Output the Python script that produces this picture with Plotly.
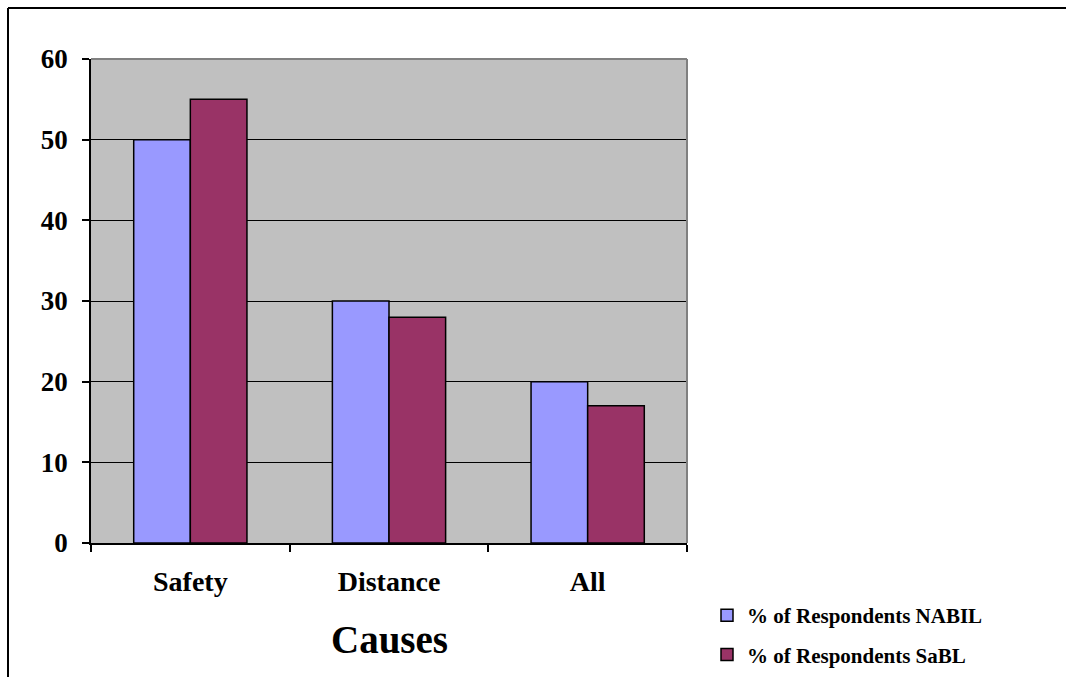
import plotly.graph_objects as go

# Survey results: share of respondents by cause
causes = ["Safety", "Distance", "All"]
nabil = [50, 30, 20]
sabl = [55, 28, 17]
series_names = ["% of Respondents NABIL", "% of Respondents SaBL"]
y_ticks = [0, 10, 20, 30, 40, 50, 60]

SERIF = "Liberation Serif"
W, H = 1066, 677
L, R, T, B = 91, 379, 59, 134
pw, ph = W - L - R, H - T - B


def px_x(x):
    return (x - L) / pw


def px_y(y):
    return (H - B - y) / ph


fig = go.Figure()
fig.add_trace(go.Bar(
    x=causes, y=nabil, name=series_names[0], legendgroup="a",
    marker=dict(color="#9999FF", line=dict(color="black", width=1.5)),
))
fig.add_trace(go.Bar(
    x=causes, y=sabl, name=series_names[1], legendgroup="b",
    marker=dict(color="#993366", line=dict(color="black", width=1.5)),
))

fig.update_layout(
    width=W, height=H, autosize=False,
    margin=dict(l=L, r=R, t=T, b=B, pad=0),
    paper_bgcolor="white", plot_bgcolor="#C0C0C0",
    barmode="group", bargap=0.43, bargroupgap=0,
    font=dict(family=SERIF, color="black"),
    legend=dict(
        xref="container", yref="container",
        x=707 / W, y=1 - 595 / H, xanchor="left", yanchor="top",
        font=dict(family=SERIF, size=21, weight="bold", color="black"),
        tracegroupgap=9, bgcolor="rgba(0,0,0,0)", itemclick=False,
    ),
    showlegend=True,
)

fig.update_xaxes(
    type="category", tickson="boundaries", showgrid=False,
    showline=True, linecolor="black", linewidth=1.5,
    ticks="outside", ticklen=7, tickcolor="black", tickwidth=1.5,
    tickfont=dict(family=SERIF, size=28, weight="bold", color="black"),
    ticklabelstandoff=13,
)
fig.update_yaxes(
    range=[0, 60], tickvals=y_ticks, showgrid=True,
    gridcolor="black", gridwidth=1.2,
    showline=True, linecolor="black", linewidth=1.5,
    ticks="outside", ticklen=7, tickcolor="black", tickwidth=1.5,
    tickfont=dict(family=SERIF, size=27, weight="bold", color="black"),
    ticklabelstandoff=9, zeroline=False,
)

# Grey edges of the plotting area (top and right)
fig.add_shape(type="line", xref="paper", yref="paper", x0=0, x1=1, y0=1, y1=1,
              line=dict(color="#808080", width=2), layer="above")
fig.add_shape(type="line", xref="paper", yref="paper", x0=1, x1=1, y0=0, y1=1,
              line=dict(color="#808080", width=2), layer="above")

# Outer chart frame (left and top)
fig.add_shape(type="line", xref="paper", yref="paper",
              x0=px_x(8), x1=px_x(8), y0=px_y(H + 5), y1=px_y(8),
              line=dict(color="black", width=2))
fig.add_shape(type="line", xref="paper", yref="paper",
              x0=px_x(8), x1=px_x(W + 5), y0=px_y(8), y1=px_y(8),
              line=dict(color="black", width=2))

# Axis title
fig.add_annotation(
    text="Causes", xref="paper", yref="paper", x=0.5, y=px_y(639),
    xanchor="center", yanchor="middle", showarrow=False,
    font=dict(family=SERIF, size=39, weight="bold", color="black"),
)

fig.write_html("out.html")
